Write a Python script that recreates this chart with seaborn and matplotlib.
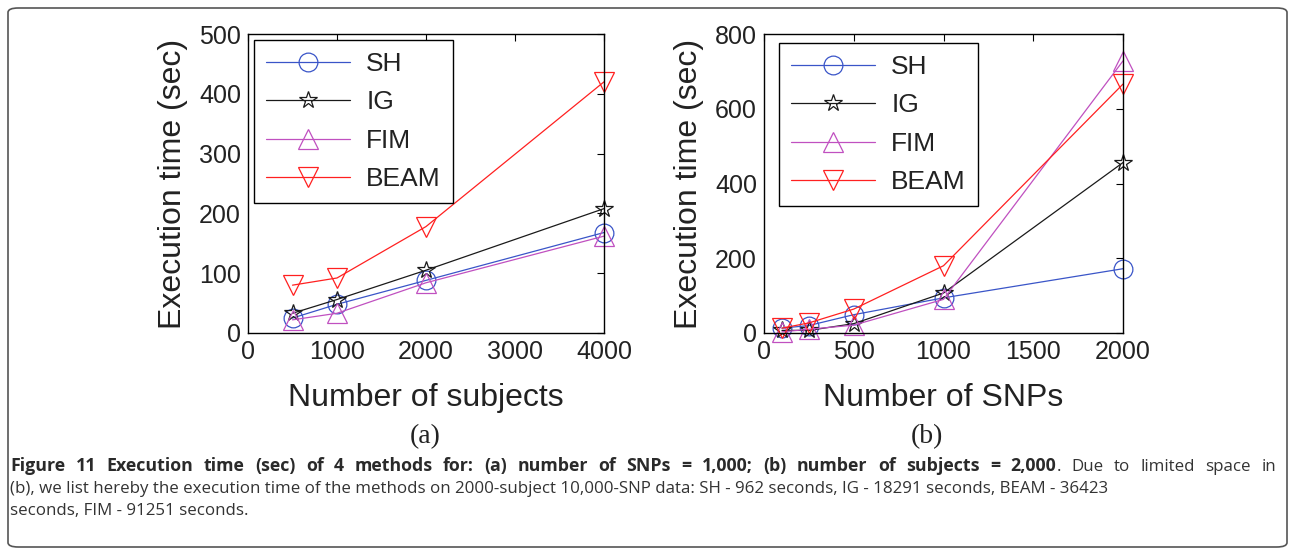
import numpy as np
import pandas as pd
import matplotlib
matplotlib.use('Agg')
import matplotlib.pyplot as plt
import seaborn as sns
from matplotlib.patches import FancyBboxPatch

# (a) number of SNPs = 1,000
subjects = [500, 1000, 2000, 4000]
sh_a = [25, 48, 88, 168]
ig_a = [33, 56, 105, 208]
fim_a = [22, 33, 84, 162]
beam_a = [80, 92, 178, 420]

# (b) number of subjects = 2,000
snps = [100, 250, 500, 1000, 2000]
sh_b = [13, 20, 49, 94, 172]
ig_b = [7, 7, 25, 107, 456]
fim_b = [3, 10, 21, 90, 728]
beam_b = [13, 27, 64, 180, 666]

methods = ['SH', 'IG', 'FIM', 'BEAM']
colors = {'SH': '#3a55c8', 'IG': '#1a1a1a', 'FIM': '#c050c0', 'BEAM': '#ff2020'}
markers = {'SH': ('o', 13.5), 'IG': ('*', 13), 'FIM': ('^', 15), 'BEAM': ('v', 15)}

sns.set_style('white')
plt.rcParams['font.family'] = ['Liberation Sans', 'DejaVu Sans']

fig = plt.figure(figsize=(12.9, 5.51), dpi=100)
W, H = 1290, 551


def ax_rect(x0, x1, y0, y1):
    return [x0 / W, 1 - y1 / H, (x1 - x0) / W, (y1 - y0) / H]


def draw_panel(ax, x, series, xlim, xticks, ylim, yticks, xlabel, leg_anchor):
    for name, vals in zip(methods, series):
        df = pd.DataFrame({'x': x, 'y': vals})
        m, ms = markers[name]
        sns.lineplot(data=df, x='x', y='y', ax=ax, color=colors[name], lw=0.9,
                     marker=m, markersize=ms, markerfacecolor='none',
                     markeredgecolor=colors[name], markeredgewidth=0.9, label=name,
                     clip_on=False)
    ax.set_xlim(*xlim)
    ax.set_ylim(*ylim)
    ax.set_xticks(xticks)
    ax.set_yticks(yticks)
    ax.tick_params(direction='in', top=True, right=True, length=5, width=0.8,
                   labelsize=18, colors='black', pad=5)
    for t in ax.get_xticklabels() + ax.get_yticklabels():
        t.set_color('#222222')
    for s in ax.spines.values():
        s.set_color('black')
        s.set_linewidth(1.0)
    ax.set_xlabel(xlabel, fontsize=23, color='#222222', labelpad=14)
    ax.set_ylabel('Execution time (sec)', fontsize=23, color='#222222', labelpad=8)
    leg = ax.legend(loc='upper left', bbox_to_anchor=leg_anchor, fontsize=19,
                    handlelength=3.2, handletextpad=0.6, labelspacing=0.55,
                    borderpad=0.45, borderaxespad=0, fancybox=False, framealpha=1,
                    edgecolor='black')
    leg.get_frame().set_linewidth(1.0)
    for t in leg.get_texts():
        t.set_color('#222222')


ax1 = fig.add_axes(ax_rect(248, 604, 34, 333))
draw_panel(ax1, subjects, [sh_a, ig_a, fim_a, beam_a], (0, 4000), [0, 1000, 2000, 3000, 4000],
           (0, 500), [0, 100, 200, 300, 400, 500], 'Number of subjects', (6 / 356, 1 - 6 / 299))

ax2 = fig.add_axes(ax_rect(764, 1123, 34, 333))
draw_panel(ax2, snps, [sh_b, ig_b, fim_b, beam_b], (0, 2000), [0, 500, 1000, 1500, 2000],
           (0, 800), [0, 200, 400, 600, 800], 'Number of SNPs', (15 / 359, 1 - 9 / 299))

fig.text(425 / W, 1 - 437 / H, '(a)', family='Liberation Serif', fontsize=20,
         ha='center', va='center', color='#222222')
fig.text(927 / W, 1 - 437 / H, '(b)', family='Liberation Serif', fontsize=20,
         ha='center', va='center', color='#222222')

# caption (first line justified to full width)
cap_bold = 'Figure 11 Execution time (sec) of 4 methods for: (a) number of SNPs = 1,000; (b) number of subjects = 2,000'
cap_rest = '. Due to limited space in'
line2 = '(b), we list hereby the execution time of the methods on 2000-subject 10,000-SNP data: SH - 962 seconds, IG - 18291 seconds, BEAM - 36423'
line3 = 'seconds, FIM - 91251 seconds.'
cap_font = ['Open Sans', 'DejaVu Sans']
cap_size = 12.2
bold_size = 12.8
cap_color = '#333333'
x_left, x_right = 10, 1276
renderer = fig.canvas.get_renderer()

words = [[(w, 'bold')] for w in cap_bold.split(' ')]
rest = cap_rest.split(' ')
words[-1].append((rest[0], 'normal'))
words += [[(w, 'normal')] for w in rest[1:]]


def text_width(s, weight):
    size = bold_size if weight == 'bold' else cap_size
    t = fig.text(0, 0, s, family=cap_font, fontsize=size, weight=weight)
    w = t.get_window_extent(renderer).width
    t.remove()
    return w


widths = [sum(text_width(s, wt) for s, wt in word) for word in words]
gap = (x_right - x_left - sum(widths)) / (len(words) - 1)
xpos = x_left
for word, wd in zip(words, widths):
    xx = xpos
    for s, wt in word:
        fig.text(xx / W, 1 - 471 / H, s, family=cap_font,
                 fontsize=bold_size if wt == 'bold' else cap_size, weight=wt,
                 ha='left', va='baseline', color='#2a2a2a' if wt == 'bold' else cap_color)
        xx += text_width(s, wt)
    xpos += wd + gap

fig.text(x_left / W, 1 - 493 / H, line2, family=cap_font, fontsize=cap_size,
         ha='left', va='baseline', color=cap_color)
fig.text(x_left / W, 1 - 515 / H, line3, family=cap_font, fontsize=cap_size,
         ha='left', va='baseline', color=cap_color)

# rounded frame
frame = FancyBboxPatch((8 / W, 4 / H), 1279 / W, 539 / H,
                       boxstyle='round,pad=0,rounding_size=0.008', transform=fig.transFigure,
                       fill=False, edgecolor='#555555', lw=1.2)
fig.patches.append(frame)

fig.savefig('out.png', dpi=100)
